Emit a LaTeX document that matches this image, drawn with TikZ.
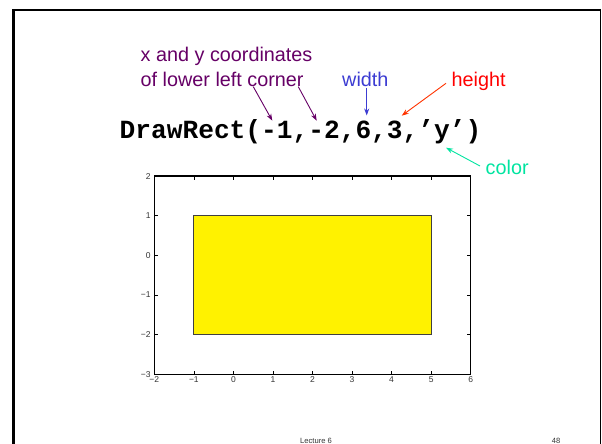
\documentclass[tikz,border=0pt]{standalone}
\usepackage{fontspec}
\setmainfont{Liberation Sans}
\newfontfamily\codefont{Liberation Mono}
\usetikzlibrary{arrows.meta}
\definecolor{notepurple}{RGB}{102,0,102}
\definecolor{noteblue}{RGB}{60,60,210}
\definecolor{notered}{RGB}{255,0,0}
\definecolor{arrowred}{RGB}{255,51,0}
\definecolor{noteteal}{RGB}{0,228,160}
\begin{document}
\begin{tikzpicture}[x=1pt,y=-1pt,
  note/.style={anchor=base west,inner sep=0pt,font=\fontsize{19.8}{24.3}\selectfont},
  pointer/.style={-{Stealth[length=7pt,width=5pt]},line width=0.9pt},
  ticklabel/.style={inner sep=0pt,font=\fontsize{8.5}{10}\selectfont,text=black!80},
  footer/.style={anchor=base,inner sep=0pt,font=\fontsize{7.6}{9}\selectfont,text=black!80}]
\useasboundingbox (0,0) rectangle (602,444);
% slide frame
\draw[line width=3pt] (13.5,450) -- (13.5,9.5);
\draw[line width=2pt] (12,10) -- (600.3,10);
\draw[line width=1.5pt] (600.3,9) -- (600.3,450);
% call and its parts
\node[anchor=base west,inner sep=0pt,font=\codefont\bfseries\fontsize{26.2}{30}\selectfont]
  (call) at (119.5,138) {DrawRect(-1,-2,6,3,’y’)};
\node[note,text=notepurple,align=left] (corner) at (140.5,86)
  {x and y coordinates\\of lower left corner};
\node[note,text=noteblue] (width) at (342,86) {width};
\node[note,text=notered] (height) at (451.5,86) {height};
\node[note,text=noteteal] (color) at (485.5,174.3) {color};
\coordinate (xfrom) at (253.3,86.7);
\coordinate (xtip) at (272.3,120.7);
\coordinate (yfrom) at (298.3,86.7);
\coordinate (ytip) at (316.7,120.7);
\coordinate (wfrom) at (366.7,88.3);
\coordinate (wtip) at (366.7,115.5);
\coordinate (hfrom) at (446,83.3);
\coordinate (htip) at (401.7,115.7);
\coordinate (cfrom) at (480,166);
\coordinate (ctip) at (446,147.7);
\draw[pointer,notepurple] (xfrom) -- (xtip);
\draw[pointer,notepurple] (yfrom) -- (ytip);
\draw[pointer,noteblue] (wfrom) -- (wtip);
\draw[pointer,arrowred] (hfrom) -- (htip);
\draw[pointer,noteteal] (cfrom) -- (ctip);
% the plot
\begin{scope}[xshift=233.4pt,yshift=-255.4pt,x=39.55pt,y=39.67pt]
  \fill[yellow] (-1,-2) rectangle (5,1);
  \draw[black!75,line width=0.9pt] (-1,-2) rectangle (5,1);
  \foreach \v in {-2,...,6} {
    \draw[line width=0.7pt] (\v,-3) -- ++(0pt,3.5pt);
    \draw[line width=0.7pt] (\v,2) -- ++(0pt,-3.5pt);
  }
  \foreach \v in {-3,...,2} {
    \draw[line width=0.7pt] (-2,\v) -- ++(3.5pt,0pt);
    \draw[line width=0.7pt] (6,\v) -- ++(-3.5pt,0pt);
  }
  \draw[line width=1.3pt] (-2,-3) rectangle (6,2);
  \foreach \v/\t in {-2/−2,-1/−1,0/0,1/1,2/2,3/3,4/4,5/5,6/6}
    \node[ticklabel,anchor=north] at ([yshift=-1.8pt]\v,-3) {\t};
  \foreach \v/\t in {-3/−3,-2/−2,-1/−1,0/0,1/1,2/2}
    \node[ticklabel,anchor=east] at ([xshift=-3.5pt]-2,\v) {\t};
\end{scope}
% footer
\node[footer] (lecture) at (316,443.5) {Lecture 6};
\node[footer] (page) at (556,443.5) {48};
\end{tikzpicture}
\end{document}
